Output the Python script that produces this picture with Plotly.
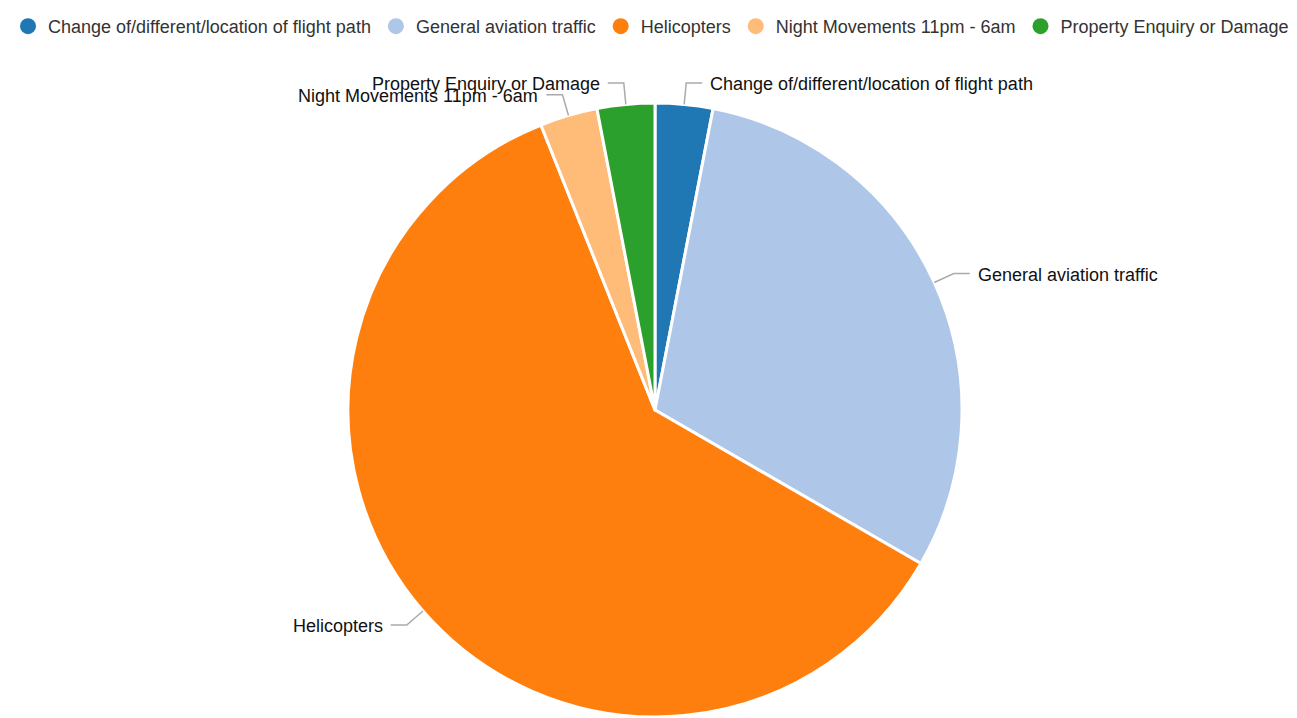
import math
import plotly.graph_objects as go

categories = [
    "Change of/different/location of flight path",
    "General aviation traffic",
    "Helicopters",
    "Night Movements 11pm - 6am",
    "Property Enquiry or Damage",
]
counts = [1, 10, 20, 1, 1]
colors = ["#1f77b4", "#aec7e8", "#ff7f0e", "#ffbb78", "#2ca02c"]

W, H = 1297, 718
OFF = 8  # page body margin
CX, CY, R = 655 - OFF, 410 - OFF, 307  # pie centre / radius in pixels

FONT = "Arial, Liberation Sans, sans-serif"

fig = go.Figure()
fig.add_trace(go.Pie(
    labels=categories,
    values=counts,
    sort=False,
    direction="clockwise",
    rotation=0,
    marker=dict(colors=colors, line=dict(color="white", width=3)),
    textinfo="none",
    hoverinfo="label+value+percent",
    showlegend=False,
    domain=dict(x=[(CX - R) / W, (CX + R) / W], y=[(H - (CY + R)) / H, (H - (CY - R)) / H]),
))

# legend entries (circle markers)
for name, col in zip(categories, colors):
    fig.add_trace(go.Scatter(x=[None], y=[None], mode="markers", name=name,
                             marker=dict(color=col, size=16, symbol="circle")))


def px2paper(x, y):
    return x / W, 1 - y / H


total = sum(counts)
cum = 0
shapes = []
annotations = []
for name, v in zip(categories, counts):
    mid = (cum + v / 2) / total * 2 * math.pi
    cum += v
    s, c = math.sin(mid), math.cos(mid)
    p0 = (CX + R * s, CY - R * c)
    p1 = (CX + 1.07 * R * s, CY - 1.07 * R * c)
    sign = 1 if s >= 0 else -1
    p2 = (p1[0] + sign * 16, p1[1])
    a0, a1, a2 = px2paper(*p0), px2paper(*p1), px2paper(*p2)
    shapes.append(dict(type="path", xref="paper", yref="paper",
                       path=f"M {a0[0]},{a0[1]} L {a1[0]},{a1[1]} L {a2[0]},{a2[1]}",
                       line=dict(color="#aaaaaa", width=1.5)))
    tx, ty = px2paper(p2[0] + sign * 6, p2[1] + 1)
    annotations.append(dict(x=tx, y=ty, xref="paper", yref="paper", text=name,
                            showarrow=False, xanchor="left" if sign > 0 else "right",
                            yanchor="middle", font=dict(family=FONT, size=18, color="#111111")))

fig.update_layout(
    width=W, height=H,
    margin=dict(l=0, r=0, t=0, b=0),
    paper_bgcolor="white", plot_bgcolor="white",
    xaxis=dict(visible=False), yaxis=dict(visible=False),
    shapes=shapes,
    annotations=annotations,
    legend=dict(orientation="h", x=0, xanchor="left", y=1.0, yanchor="top",
                font=dict(family=FONT, size=18, color="#333333"),
                itemclick=False, itemdoubleclick=False),
    font=dict(family=FONT),
)

fig.write_html("out.html")
